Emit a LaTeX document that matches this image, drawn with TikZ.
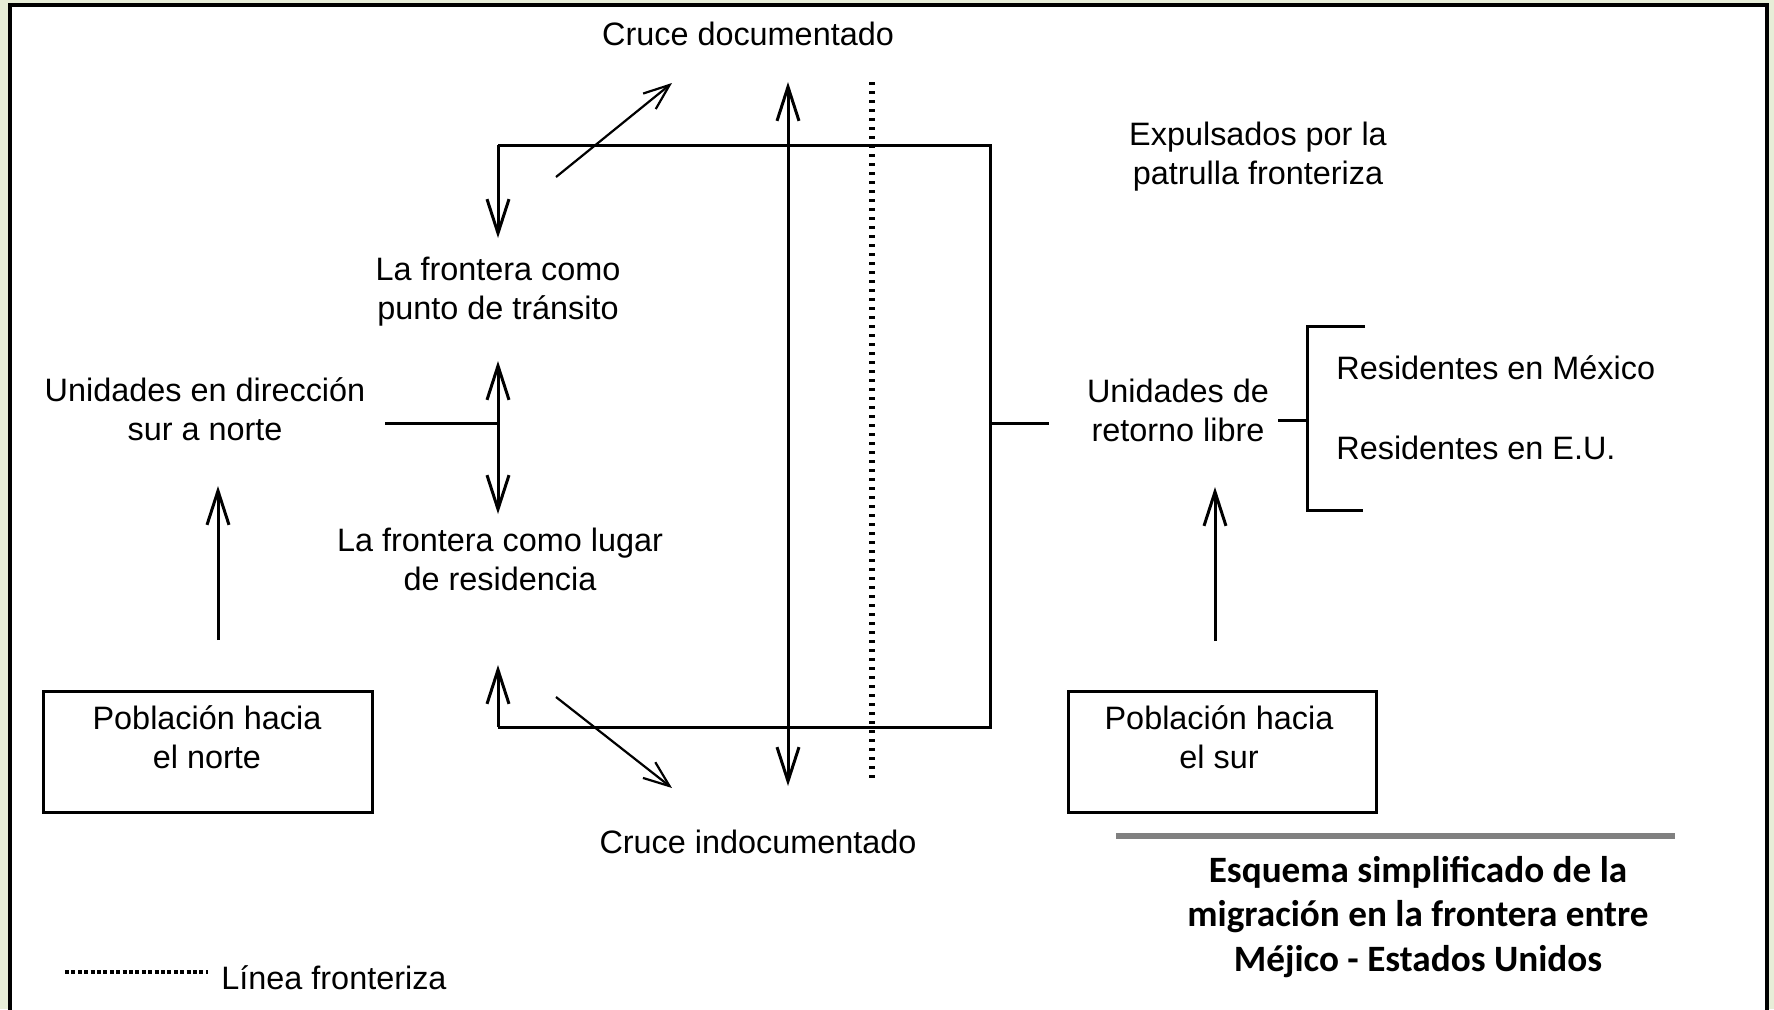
\documentclass[tikz,border=0pt]{standalone}
\usepackage{fontspec}
\setmainfont{Liberation Sans}
\newfontfamily\titlefont{Carlito}
\usetikzlibrary{arrows.meta}
\definecolor{bggreen}{RGB}{231,237,215}
\definecolor{rulegray}{RGB}{128,128,128}
\begin{document}
\begin{tikzpicture}[x=0.5pt,y=-0.5pt,
  lbl/.style={inner sep=0pt, align=center, font=\fontsize{16.2pt}{19.5pt}\selectfont},
  ln/.style={line width=1.5pt},
  thin/.style={line width=1.1pt},
  arr/.style={-{Straight Barb[length=17pt,width=11pt]}},
  darr/.style={{Straight Barb[length=17pt,width=11pt]}-{Straight Barb[length=17pt,width=11pt]}},
  sarr/.style={-{Straight Barb[length=13pt,width=10pt]}},
  dotln/.style={line width=2.8pt, dash pattern=on 1.4pt off 3.1pt},
  legdot/.style={line width=2pt, dash pattern=on 2pt off 1.2pt},
  boxst/.style={draw, line width=1.5pt, inner sep=0pt}
]
\useasboundingbox (0,0) rectangle (1774,1009);
\clip (0,0) rectangle (1774,1009);
\fill[bggreen] (0,0) rectangle (1774,1009);
\draw[line width=2pt, fill=white] (10,5) rectangle (1767,1040);

% labels
\node[lbl] (cdoc) at (748,34) {Cruce documentado};
\node[lbl] (expul) at (1258,157) {Expulsados por la\\patrulla fronteriza};
\node[lbl] (transit) at (498,292) {La frontera como\\punto de tránsito};
\node[lbl] (sn) at (205,409) {Unidades en dirección\\sur a norte};
\node[lbl] (resid) at (500,559) {La frontera como lugar\\de residencia};
\node[lbl] (cindoc) at (758,842) {Cruce indocumentado};
\node[lbl] (retorno) at (1178,410) {Unidades de\\retorno libre};
\node[lbl, anchor=west] (rmx) at (1336,368) {Residentes en México};
\node[lbl, anchor=west] (reu) at (1336,448) {Residentes en E.U.};

% boxes
\node[boxst, minimum width=164.5pt, minimum height=60.5pt] (bn) at (207.5,751.5) {};
\node[lbl] (bnt) at (207,737) {Población hacia\\el norte};
\node[boxst, minimum width=154pt, minimum height=60.5pt] (bs) at (1222,751.5) {};
\node[lbl] (bst) at (1219,737) {Población hacia\\el sur};

% central rectangle
\coordinate (tl) at (498,145);
\coordinate (tr) at (990,145);
\coordinate (br) at (990,727);
\coordinate (bl) at (498,727);
\coordinate (tipA) at (498,238);
\coordinate (tipB) at (498,665);
\draw[ln] (tl) -- (tr) -- (br) -- (bl);
\draw[ln, arr] (tl) -- (tipA);
\draw[ln, arr] (bl) -- (tipB);

% middle double arrow and branch
\coordinate (mu) at (498,361);
\coordinate (md) at (498,514);
\coordinate (mj) at (498,423);
\coordinate (ml) at (385,423);
\draw[ln, darr] (mu) -- (md);
\draw[ln] (ml) -- (mj);

% right tick
\coordinate (rj) at (990,423);
\coordinate (rt) at (1049,423);
\draw[ln] (rj) -- (rt);

% vertical double arrow and border line
\coordinate (vu) at (788,82);
\coordinate (vd) at (788,786);
\draw[ln, darr] (vu) -- (vd);
\coordinate (du) at (872,82);
\coordinate (dd) at (872,783);
\draw[dotln] (du) -- (dd);

% diagonals
\coordinate (d1s) at (556,177);
\coordinate (d1e) at (672,83);
\coordinate (d2s) at (556,697);
\coordinate (d2e) at (672,788);
\draw[thin, sarr] (d1s) -- (d1e);
\draw[thin, sarr] (d2s) -- (d2e);

% side arrows
\coordinate (la0) at (218,640);
\coordinate (la1) at (218,486);
\draw[ln, arr] (la0) -- (la1);
\coordinate (ra0) at (1215,641);
\coordinate (ra1) at (1215,487);
\draw[ln, arr] (ra0) -- (ra1);

% bracket
\coordinate (bk0) at (1278,420);
\coordinate (bk1) at (1307,420);
\coordinate (bkt) at (1307,326);
\coordinate (bkb) at (1307,510);
\coordinate (bkte) at (1365,326);
\coordinate (bkbe) at (1363,510);
\draw[ln] (bk0) -- (bk1);
\draw[ln] (bkte) -- (bkt) -- (bkb) -- (bkbe);

% title
\coordinate (gr0) at (1116,836);
\coordinate (gr1) at (1675,836);
\draw[line width=3pt, rulegray] (gr0) -- (gr1);
\node[inner sep=0pt, align=center, font=\titlefont\bfseries\fontsize{18.6pt}{22.35pt}\selectfont] (title) at (1418,917)
  {Esquema simplificado de la\\migración en la frontera entre\\Méjico - Estados Unidos};

% legend
\coordinate (lg0) at (65,972);
\coordinate (lg1) at (208,972);
\draw[legdot] (lg0) -- (lg1);
\node[lbl, anchor=west] (legt) at (221,978) {Línea fronteriza};
\end{tikzpicture}
\end{document}
